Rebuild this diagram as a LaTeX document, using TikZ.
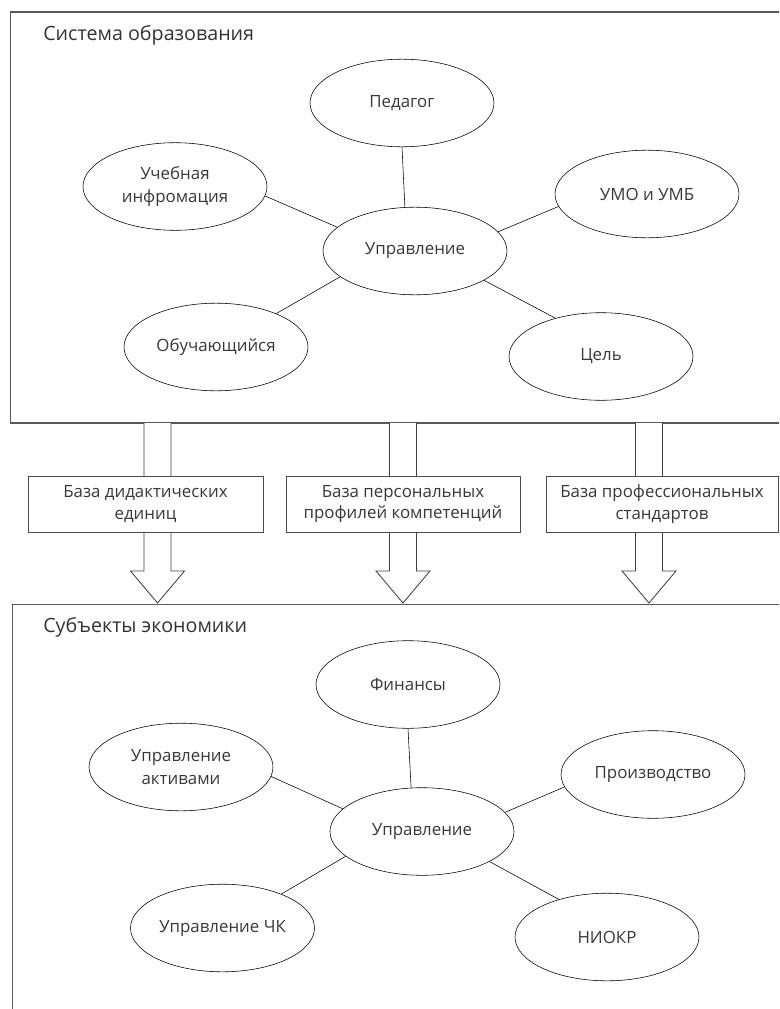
\documentclass[tikz,border=0pt]{standalone}
\usepackage{fontspec}
\setmainfont{Open Sans}
\usetikzlibrary{shapes.geometric}

\tikzset{
  elli/.style={draw, ellipse, inner sep=0pt, minimum width=4.6cm, minimum height=2.19cm,
               align=center, text=black!78, font=\fontsize{12}{16}\selectfont},
  basebox/.style={draw=black!70, fill=white, line width=0.6pt, minimum height=1.4cm,
                  inner sep=0pt, align=center, text=black!78, font=\fontsize{12}{15.6}\selectfont},
  frame/.style={draw=black!65, line width=0.8pt},
  heading/.style={anchor=west, inner sep=0pt, text=black!80, font=\fontsize{14}{16}\selectfont}
}

\begin{document}
\begin{tikzpicture}
\useasboundingbox (0,0) rectangle (19.475,-25.225);
\clip (0,0) rectangle (19.475,-25.225);

% Bildungssystem
\draw[frame] (0.2625,-0.3) rectangle (20,-10.575);
\node[heading] (sys) at (1.075,-0.875) {Система образования};
\node[elli] (ped) at (10.05,-2.575) {Педагог};
\node[elli] (uch) at (4.375,-4.6625) {Учебная\\инфромация};
\node[elli] (upr) at (10.375,-6.275) {Управление};
\node[elli] (umo) at (16.175,-4.85) {УМО и УМБ};
\node[elli] (obu) at (5.4,-8.675) {Обучающийся};
\node[elli] (cel) at (15.025,-8.9125) {Цель};
\draw (ped.270)--(upr.103);
\draw (uch.-6.5)--(upr.163.6);
\draw (obu.29.4)--(upr.199.1);
\draw (umo.188.2)--(upr.13.4);
\draw (cel.140)--(upr.-23.8);

% Pfeile
\foreach \x in {3.9375,10.075,16.225}
  \draw[black!75, line width=0.6pt, fill=white] (\x-0.3375,-10.575)--(\x-0.3375,-14.275)--(\x-0.675,-14.275)
        --(\x,-15.075)--(\x+0.675,-14.275)--(\x+0.3375,-14.275)--(\x+0.3375,-10.575);
\node[basebox, minimum width=5.875cm] (did) at (3.6375,-12.6) {База дидактических\\единиц};
\node[basebox, minimum width=5.85cm] (prf) at (10.075,-12.6) {База персональных\\профилей компетенций};
\node[basebox, minimum width=5.8cm] (std) at (16.55,-12.6) {База профессиональных\\стандартов};

% Wirtschaft
\draw[frame] (0.3075,-15.1125) rectangle (20,-26);
\node[heading] (eko) at (1.075,-15.675) {Субъекты экономики};
\node[elli] (fin) at (10.2,-17.1125) {Финансы};
\node[elli] (akt) at (4.525,-19.175) {Управление\\активами};
\node[elli] (upr2) at (10.55,-20.7875) {Управление};
\node[elli] (pro) at (16.325,-19.3625) {Производство};
\node[elli] (chk) at (5.5625,-23.2) {Управление ЧК};
\node[elli] (nio) at (15.175,-23.425) {НИОКР};
\draw (fin.270)--(upr2.104);
\draw (akt.-6.2)--(upr2.164);
\draw (chk.30)--(upr2.198.5);
\draw (pro.188)--(upr2.13.2);
\draw (nio.142)--(upr2.-24.5);
\end{tikzpicture}
\end{document}
